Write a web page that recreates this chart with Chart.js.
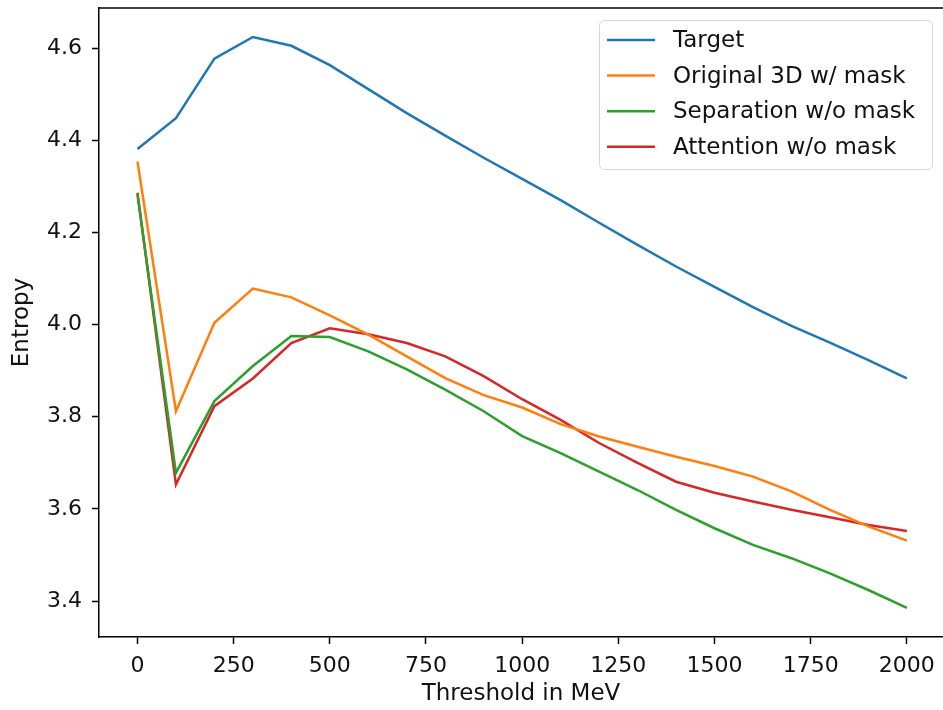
<!DOCTYPE html>
<html>
<head>
<meta charset="utf-8">
<script src="https://cdn.jsdelivr.net/npm/chart.js@4"></script>
<style>
  body { margin: 0; background: #fff; }
  canvas { display: block; }
</style>
</head>
<body>
<canvas id="myChart" width="943" height="710"></canvas>
<script>
const thresholds = [0, 100, 200, 300, 400, 500, 600, 700, 800, 900, 1000,
  1100, 1200, 1300, 1400, 1500, 1600, 1700, 1800, 1900, 2000];

const target = [4.381, 4.448, 4.577, 4.624, 4.605, 4.563, 4.511, 4.459, 4.41, 4.362, 4.316,
  4.27, 4.221, 4.173, 4.126, 4.082, 4.038, 3.997, 3.961, 3.923, 3.883];
const original3d = [4.354, 3.812, 4.004, 4.078, 4.059, 4.02, 3.978, 3.931, 3.884, 3.847, 3.82,
  3.784, 3.757, 3.735, 3.713, 3.693, 3.67, 3.638, 3.598, 3.562, 3.531];
const separation = [4.282, 3.678, 3.834, 3.91, 3.975, 3.973, 3.942, 3.903, 3.859, 3.812, 3.758,
  3.721, 3.681, 3.641, 3.598, 3.558, 3.522, 3.493, 3.46, 3.424, 3.385];
const attention = [4.286, 3.653, 3.823, 3.883, 3.96, 3.992, 3.979, 3.96, 3.931, 3.888, 3.838,
  3.793, 3.743, 3.70, 3.659, 3.635, 3.616, 3.598, 3.582, 3.565, 3.552];

const seriesNames = ["Target", "Original 3D w/ mask", "Separation w/o mask", "Attention w/o mask"];
const seriesColors = ["#1f77b4", "#ff7f0e", "#2ca02c", "#d62728"];

const xTicks = [0, 250, 500, 750, 1000, 1250, 1500, 1750, 2000];
const yTicks = [3.4, 3.6, 3.8, 4.0, 4.2, 4.4, 4.6];

const FONT = "'DejaVu Sans', sans-serif";
const TICK_FS = 22;
const LABEL_FS = 23;

const toPoints = (vals) => vals.map((v, i) => ({ x: thresholds[i], y: v }));

// matplotlib style frame: top spine (left/bottom come from the axes)
const framePlugin = {
  id: "frame",
  afterDraw: (chart) => {
    const { ctx, chartArea } = chart;
    ctx.save();
    ctx.strokeStyle = "#000";
    ctx.lineWidth = 1.5;
    ctx.beginPath();
    ctx.moveTo(chartArea.left, chartArea.top);
    ctx.lineTo(chartArea.right, chartArea.top);
    ctx.stroke();
    ctx.restore();
  },
};

// legend box in the upper right corner, drawn over the lines
const legendPlugin = {
  id: "boxLegend",
  afterDatasetsDraw: (chart) => {
    const { ctx } = chart;
    const x0 = 599, y0 = 20, w = 333, h = 149;
    ctx.save();
    ctx.beginPath();
    ctx.roundRect(x0 + 0.5, y0 + 0.5, w, h, 5);
    ctx.fillStyle = "rgba(255,255,255,0.8)";
    ctx.fill();
    ctx.strokeStyle = "#d5d5d5";
    ctx.lineWidth = 1;
    ctx.stroke();

    ctx.font = LABEL_FS + "px " + FONT;
    ctx.textBaseline = "middle";
    ctx.fillStyle = "#111";
    seriesNames.forEach((name, i) => {
      const y = 40 + i * 35.6;
      ctx.strokeStyle = seriesColors[i];
      ctx.lineWidth = 2.5;
      ctx.beginPath();
      ctx.moveTo(607, y);
      ctx.lineTo(655, y);
      ctx.stroke();
      ctx.fillText(name, 673, y + 1);
    });
    ctx.restore();
  },
};

const noPadding = (scale) => {
  scale.paddingTop = 0;
  scale.paddingBottom = 0;
  scale.paddingLeft = 0;
  scale.paddingRight = 0;
};

const ctx = document.getElementById("myChart").getContext("2d");
const datasets = [target, original3d, separation, attention].map((vals, i) => ({
  label: seriesNames[i],
  data: toPoints(vals),
  borderColor: seriesColors[i],
  backgroundColor: seriesColors[i],
  borderWidth: 2.5,
  pointRadius: 0,
  tension: 0,
  fill: false,
}));

new Chart(ctx, {
  type: "line",
  data: { datasets },
  options: {
    responsive: false,
    animation: false,
    layout: { padding: { top: 8, right: 0, left: 0, bottom: 0 } },
    plugins: {
      legend: { display: false },
      tooltip: { enabled: false },
    },
    scales: {
      x: {
        type: "linear",
        min: -100,
        max: 2094,
        afterBuildTicks: (scale) => { scale.ticks = xTicks.map((v) => ({ value: v })); },
        afterFit: (scale) => { scale.height = 73; noPadding(scale); },
        grid: { drawOnChartArea: false, drawTicks: true, tickLength: 7, tickColor: "#000", tickWidth: 1.5 },
        border: { color: "#000", width: 1.5 },
        ticks: {
          color: "#111",
          font: { family: FONT, size: TICK_FS },
          padding: 9,
          maxRotation: 0,
          autoSkip: false,
          callback: (v) => String(v),
        },
        title: {
          display: true,
          text: "Threshold in MeV",
          color: "#111",
          font: { family: FONT, size: LABEL_FS },
          padding: { top: 0, bottom: 2 },
        },
      },
      y: {
        type: "linear",
        min: 3.322,
        max: 4.687,
        afterBuildTicks: (scale) => { scale.ticks = yTicks.map((v) => ({ value: v })); },
        afterFit: (scale) => { scale.width = 99; noPadding(scale); },
        grid: { drawOnChartArea: false, drawTicks: true, tickLength: 7, tickColor: "#000", tickWidth: 1.5 },
        border: { color: "#000", width: 1.5 },
        ticks: {
          color: "#111",
          font: { family: FONT, size: TICK_FS },
          padding: 10,
          autoSkip: false,
          callback: (v) => v.toFixed(1),
        },
        title: {
          display: true,
          text: "Entropy",
          color: "#111",
          font: { family: FONT, size: LABEL_FS },
          padding: { top: 8, bottom: 0 },
        },
      },
    },
  },
  plugins: [framePlugin, legendPlugin],
});
</script>
</body>
</html>
